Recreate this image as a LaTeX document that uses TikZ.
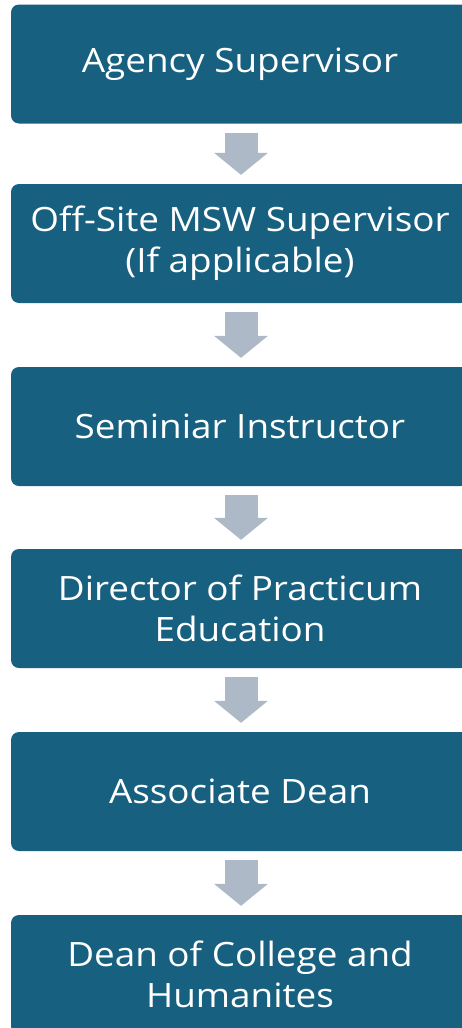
\documentclass[tikz,border=0pt]{standalone}
\usepackage{fontspec}
\setmainfont{Open Sans}[FakeStretch=1.1]
\usetikzlibrary{arrows.meta}
\definecolor{boxblue}{RGB}{24,96,128}
\definecolor{arrowgrey}{RGB}{173,185,198}

\begin{document}
\begin{tikzpicture}[x=1pt,y=1pt,line join=round,
    stepbox/.style={fill=boxblue,rounded corners=8pt,minimum width=458pt,
      minimum height=119pt,inner sep=0pt,text=white,align=center,
      font=\fontsize{33.5}{41}\selectfont},
    flowarrow/.style={arrowgrey,line width=33pt,line cap=butt,
      -{Triangle[width=54pt,length=22pt,line width=0pt]}}]
  \useasboundingbox (0,0) rectangle (462,-1028);
  % the six steps, top to bottom
  \node[stepbox] (agency)   at (240,-64)  {Agency Supervisor};
  \node[stepbox] (offsite)  at (240,-243.5) {Off-Site MSW Supervisor\\(If applicable)};
  \node[stepbox] (seminar)  at (240,-426.5) {Seminiar Instructor};
  \node[stepbox] (director) at (240,-608.5) {Director of Practicum\\Education};
  \node[stepbox] (assoc)    at (240,-791.5) {Associate Dean};
  \node[stepbox] (dean)     at (240,-974.5) {Dean of College and\\Humanites};
  % grey block arrows between the steps
  \foreach \a/\b in {agency/offsite,offsite/seminar,seminar/director,director/assoc,assoc/dean}
    {\draw[flowarrow] ([xshift=1pt,yshift=-9pt]\a.south) -- ([xshift=1pt,yshift=9pt]\b.north);}
\end{tikzpicture}
\end{document}
